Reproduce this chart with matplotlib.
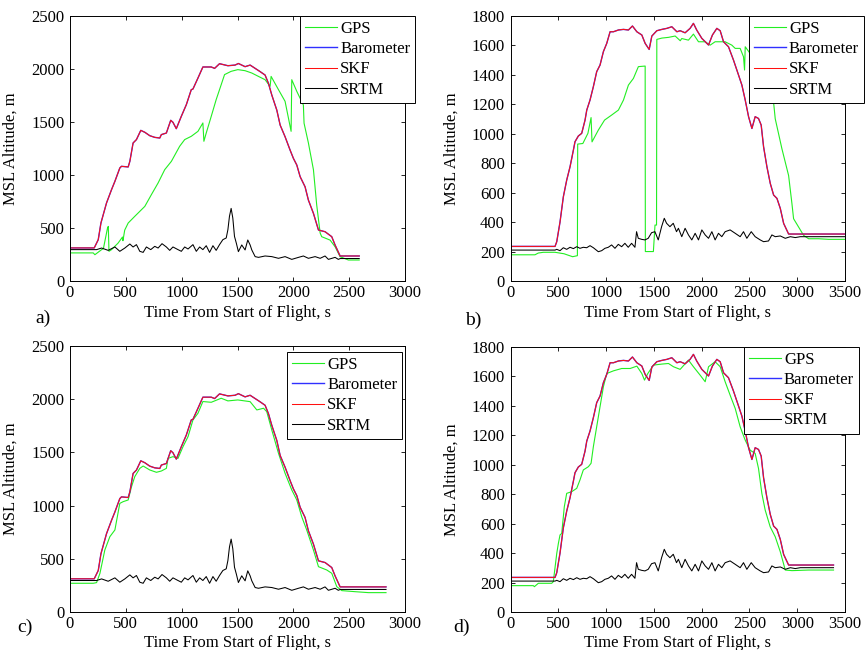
import numpy as np
import matplotlib
matplotlib.use('Agg')
import matplotlib.pyplot as plt

plt.rcParams['font.family'] = ['Liberation Serif', 'DejaVu Serif']
plt.rcParams['font.size'] = 12

# ---- flight 1 (panels a, c) ----
t_baro1 = [0, 217, 253, 277, 327, 372, 402, 446, 461, 521, 536, 565, 595, 634, 670,
           714, 759, 804, 818, 863, 902, 922, 952, 997, 1042, 1086, 1101, 1146, 1190,
           1265, 1295, 1339, 1414, 1478, 1508, 1568, 1613, 1658, 1703, 1747, 1777,
           1807, 1852, 1882, 1926, 1971, 2001, 2031, 2061, 2105, 2135, 2180, 2225,
           2284, 2344, 2374, 2419, 2590]
alt_baro1 = [312, 312, 390, 547, 736, 862, 940, 1066, 1082, 1076, 1129, 1302, 1334, 1421,
             1403, 1371, 1355, 1349, 1381, 1396, 1516, 1497, 1437, 1554, 1664, 1805, 1811,
             1915, 2019, 2019, 2006, 2050, 2031, 2037, 2052, 2022, 2037, 2006, 1975, 1943,
             1865, 1755, 1612, 1471, 1361, 1235, 1156, 1094, 984, 889, 763, 638, 481,
             465, 418, 339, 236, 236]

t_srtm1 = [0, 238, 283, 342, 402, 446, 491, 536, 565, 595, 625, 655, 684, 723, 759, 789,
           824, 863, 893, 922, 967, 997, 1027, 1057, 1101, 1131, 1161, 1190, 1220, 1250,
           1280, 1309, 1339, 1369, 1399, 1414, 1428, 1443, 1458, 1473, 1490, 1508, 1538,
           1568, 1592, 1613, 1628, 1658, 1688, 1747, 1807, 1867, 1926, 1986, 2046, 2090,
           2135, 2195, 2240, 2284, 2314, 2374, 2403, 2420, 2590]
alt_srtm1 = [296, 296, 311, 289, 321, 280, 311, 349, 321, 343, 280, 270, 321, 296, 327,
             311, 352, 321, 289, 321, 296, 280, 321, 302, 343, 280, 321, 296, 333, 270,
             333, 289, 343, 390, 406, 484, 610, 685, 594, 421, 355, 277, 340, 293, 387,
             340, 293, 230, 223, 236, 230, 214, 230, 204, 223, 236, 214, 230, 214, 236,
             204, 223, 204, 212, 212]

t_gps_a = [0, 208, 223, 283, 299, 336, 343, 349, 372, 431, 470, 474, 490, 521, 580, 670,
           729, 789, 848, 908, 982, 1027, 1086, 1146, 1190, 1199, 1220, 1265, 1309, 1354,
           1384, 1443, 1503, 1568, 1628, 1688, 1747, 1792, 1801, 1867, 1926, 1980, 1986,
           2031, 2090, 2096, 2135, 2180, 2209, 2240, 2254, 2329, 2374, 2419, 2493, 2590]
alt_gps_a = [265, 265, 248, 296, 305, 500, 515, 280, 296, 358, 415, 380, 480, 547, 610,
             704, 815, 925, 1050, 1129, 1271, 1334, 1365, 1412, 1491, 1318, 1396, 1554,
             1711, 1852, 1947, 1978, 1994, 1984, 1962, 1930, 1899, 1836, 1930, 1805, 1695,
             1412, 1899, 1789, 1660, 1489, 1302, 1050, 720, 453, 418, 386, 323, 229, 198,
             170]

t_gps_c = [0, 208, 238, 268, 312, 357, 402, 446, 476, 521, 551, 580, 625, 655, 714, 774,
           818, 863, 878, 922, 967, 1012, 1057, 1101, 1146, 1190, 1265, 1354, 1414, 1503,
           1613, 1673, 1733, 1762, 1807, 1867, 1926, 1986, 2031, 2075, 2120, 2180, 2225,
           2299, 2344, 2389, 2434, 2553, 2673, 2830]
alt_gps_c = [270, 270, 276, 363, 583, 708, 771, 1021, 1037, 1053, 1178, 1272, 1350, 1372,
             1335, 1313, 1325, 1350, 1444, 1460, 1444, 1554, 1648, 1805, 1868, 1978, 1971,
             2009, 1984, 1993, 1977, 1899, 1915, 1883, 1711, 1492, 1304, 1147, 1053, 896,
             771, 583, 426, 395, 364, 238, 201, 191, 182, 185]

# ---- flight 2 (panels b, d) ----
t_baro2 = [0, 466, 484, 518, 553, 588, 623, 658, 675, 710, 745, 780, 798, 832, 867, 902,
           937, 972, 1007, 1042, 1077, 1129, 1182, 1234, 1276, 1322, 1374, 1409, 1451,
           1479, 1531, 1584, 1636, 1688, 1741, 1775, 1827, 1879, 1914, 1949, 2002, 2072,
           2113, 2159, 2194, 2229, 2281, 2333, 2386, 2421, 2456, 2491, 2526, 2560, 2595,
           2623, 2648, 2683, 2718, 2753, 2788, 2823, 2858, 2910, 3500]
alt_baro2 = [235, 235, 267, 400, 572, 685, 776, 889, 946, 985, 1003, 1093, 1161, 1229,
             1320, 1422, 1467, 1558, 1614, 1693, 1693, 1705, 1709, 1705, 1732, 1693, 1671,
             1614, 1573, 1664, 1700, 1709, 1716, 1727, 1693, 1700, 1686, 1716, 1750, 1704,
             1648, 1603, 1671, 1716, 1700, 1625, 1591, 1501, 1399, 1331, 1229, 1116, 1036,
             1116, 1104, 1059, 912, 776, 663, 584, 561, 493, 391, 319, 320]

t_srtm2 = [0, 466, 484, 518, 553, 588, 623, 658, 693, 727, 762, 797, 832, 867, 919, 954,
           988, 1023, 1058, 1093, 1128, 1163, 1197, 1232, 1267, 1302, 1319, 1337, 1372,
           1407, 1441, 1476, 1511, 1546, 1581, 1609, 1633, 1668, 1703, 1737, 1757, 1792,
           1827, 1862, 1897, 1932, 1967, 2002, 2037, 2072, 2107, 2141, 2176, 2211, 2246,
           2298, 2351, 2403, 2438, 2473, 2519, 2560, 2613, 2648, 2700, 2735, 2770, 2823,
           2875, 2928, 2980, 3032, 3500]
alt_srtm2 = [210, 210, 215, 206, 226, 215, 229, 220, 233, 222, 229, 226, 240, 226, 199,
             206, 222, 229, 245, 222, 249, 233, 256, 229, 256, 229, 335, 290, 283, 279,
             290, 328, 335, 279, 369, 426, 392, 369, 392, 335, 358, 301, 358, 313, 279,
             324, 279, 347, 313, 290, 335, 279, 324, 301, 335, 347, 324, 301, 335, 290,
             335, 301, 279, 267, 272, 313, 301, 306, 290, 301, 295, 301, 298]

t_gps_b = [0, 256, 291, 344, 466, 560, 650, 700, 703, 757, 810, 843, 853, 919, 984, 1058,
           1129, 1182, 1234, 1286, 1338, 1409, 1411, 1495, 1512, 1528, 1531, 1584, 1654,
           1723, 1776, 1792, 1862, 1914, 1967, 2037, 2089, 2141, 2246, 2316, 2351, 2403,
           2438, 2449, 2456, 2508, 2752, 2770, 2840, 2910, 2945, 2962, 3015, 3067, 3119,
           3224, 3329, 3500]
alt_gps_b = [178, 178, 190, 195, 195, 185, 165, 172, 930, 934, 1003, 1110, 945, 1025,
             1093, 1127, 1161, 1229, 1331, 1376, 1456, 1460, 200, 200, 380, 380, 1641,
             1650, 1655, 1664, 1632, 1647, 1636, 1677, 1625, 1625, 1602, 1625, 1625, 1602,
             1580, 1580, 1523, 1433, 1591, 1545, 1218, 1102, 898, 716, 524, 423, 366, 310,
             287, 287, 283, 275]

t_gps_d = [0, 239, 250, 291, 431, 448, 484, 501, 518, 536, 563, 588, 640, 693, 727, 762,
           815, 843, 867, 902, 937, 972, 1007, 1077, 1164, 1252, 1322, 1374, 1402, 1437,
           1496, 1583, 1653, 1705, 1775, 1862, 1914, 1984, 2037, 2072, 2141, 2194, 2246,
           2298, 2351, 2403, 2456, 2508, 2560, 2595, 2630, 2665, 2717, 2770, 2823, 2875,
           2945, 3119, 3380]
alt_gps_d = [179, 179, 172, 195, 195, 206, 398, 466, 523, 534, 715, 806, 817, 840, 897,
             965, 987, 1010, 1123, 1259, 1395, 1530, 1620, 1638, 1654, 1654, 1670, 1620,
             1575, 1620, 1677, 1684, 1688, 1666, 1648, 1711, 1666, 1609, 1564, 1666, 1700,
             1666, 1564, 1473, 1383, 1258, 1167, 1099, 1077, 975, 805, 692, 579, 511, 409,
             285, 281, 285, 280]

labels = ['GPS', 'Barometer', 'SKF', 'SRTM']


def clip(t, v, t_end):
    t = np.asarray(t, float)
    v = np.asarray(v, float)
    keep = t < t_end
    return np.append(t[keep], t_end), np.append(v[keep], v[keep][-1])


def panel(rect, gps, baro, srtm, t_end, xmax, ymax, ystep, leg_anchor, tag, tag_xy, xlab_y):
    ax = fig.add_axes(rect)
    g = clip(*gps, t_end)
    b = clip(*baro, t_end)
    s = clip(*srtm, t_end)
    ax.plot(*g, color='#22ee22', lw=0.8, label=labels[0])
    ax.plot(*b, color='#3030ff', lw=1.0, label=labels[1])
    ax.plot(*b, color='#ff1010', lw=0.75, label=labels[2])
    ax.plot(*s, color='black', lw=0.75, label=labels[3])
    ax.set_xlim(0, xmax)
    ax.set_ylim(0, ymax)
    ax.set_xticks(np.arange(0, xmax + 1, 500))
    ax.set_yticks(np.arange(0, ymax + 1, ystep))
    ax.tick_params(direction='in', top=True, right=True, length=3, width=0.6,
                   labelsize=12)
    ax.tick_params(axis='x', pad=3)
    ax.tick_params(axis='y', pad=4)
    for sp in ax.spines.values():
        sp.set_linewidth(0.7)
    ax.set_ylabel('MSL Altitude, m', fontsize=12)
    ax.yaxis.set_label_coords(-0.152, 0.5)
    ax.set_xlabel('Time From Start of Flight, s', fontsize=12)
    ax.xaxis.set_label_coords(0.5, xlab_y)
    ax.xaxis.label.set_va('center')
    leg = ax.legend(loc='upper left', bbox_to_anchor=leg_anchor, fontsize=12,
                    fancybox=False, framealpha=1, edgecolor='black',
                    handlelength=1.9, handletextpad=0.2, borderpad=0.3,
                    labelspacing=0.25, borderaxespad=0)
    leg.get_frame().set_linewidth(0.7)
    fig.text(tag_xy[0] / 868, 1 - tag_xy[1] / 650, tag, fontsize=14,
             ha='center', va='center')
    return ax


fig = plt.figure(figsize=(8.68, 6.5), dpi=100)

panel([70 / 868, 369 / 650, 335 / 868, 265 / 650],
      (t_gps_a, alt_gps_a), (t_baro1, alt_baro1), (t_srtm1, alt_srtm1),
      2590, 3000, 2500, 500, (0.687, 1.0), 'a)', (43, 318), -0.122)
panel([510.5 / 868, 369 / 650, 334.5 / 868, 265 / 650],
      (t_gps_b, alt_gps_b), (t_baro2, alt_baro2), (t_srtm2, alt_srtm2),
      3500, 3500, 1800, 200, (0.713, 1.0), 'b)', (473, 320), -0.122)
panel([70 / 868, 38 / 650, 335 / 868, 266 / 650],
      (t_gps_c, alt_gps_c), (t_baro1, alt_baro1), (t_srtm1, alt_srtm1),
      2830, 3000, 2500, 500, (0.648, 0.977), 'c)', (25, 627), -0.117)
panel([510.5 / 868, 38 / 650, 334.5 / 868, 265 / 650],
      (t_gps_d, alt_gps_d), (t_baro2, alt_baro2), (t_srtm2, alt_srtm2),
      3380, 3500, 1800, 200, (0.698, 1.0), 'd)', (461, 627), -0.117)

fig.savefig('out.png', dpi=100)
